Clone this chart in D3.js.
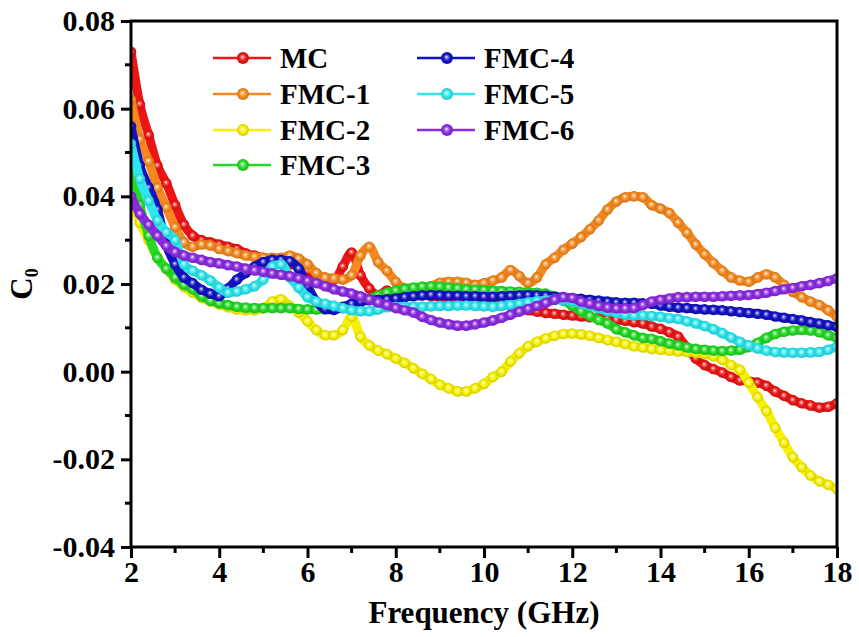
<!DOCTYPE html>
<html>
<head>
<meta charset="utf-8">
<style>
     body {
          margin: 0;
          background: white;
     }
     svg {
          font-family: "Liberation Serif", "Times New Roman", serif;
          font-weight: bold;
     }
     .axis path, .axis line {
          stroke: #000;
     }
     .axis text {
          font-family: "Liberation Serif", "Times New Roman", serif;
          font-size: 30px;
          font-weight: bold;
          fill: #000;
     }
     .legend text {
          font-size: 29px;
          fill: #000;
     }
</style>
</head>
<body>
<script src="https://d3js.org/d3.v7.min.js"></script>
<script>

     // frequency grid, 0.2 GHz step from 2 to 18 GHz
     var freq = d3.range(81).map(function(i) { return +(2 + i * 0.2).toFixed(1); });

     var mc = [0.073, 0.061, 0.054, 0.047, 0.043, 0.038, 0.0335, 0.031, 0.030, 0.0295,
          0.029, 0.0285, 0.028, 0.027, 0.0265, 0.026, 0.0255, 0.025, 0.0245, 0.024,
          0.023, 0.022, 0.021, 0.021, 0.024, 0.0272, 0.022, 0.019, 0.0175, 0.0185,
          0.018, 0.018, 0.0178, 0.0175, 0.0172, 0.017, 0.0168, 0.0165, 0.0162, 0.016,
          0.0157, 0.0155, 0.0152, 0.015, 0.0145, 0.014, 0.0137, 0.0134, 0.0132, 0.013,
          0.0128, 0.0126, 0.0124, 0.0122, 0.012, 0.0118, 0.0116, 0.0113, 0.011, 0.0103,
          0.0098, 0.009, 0.008, 0.0055, 0.003, 0.0015, 0.0006, -0.0002, -0.0012, -0.002,
          -0.0022, -0.0025, -0.0032, -0.0045, -0.0055, -0.0065, -0.0072, -0.0077, -0.0082, -0.008,
          -0.0072];

     var fmc1 = [0.062, 0.053, 0.048, 0.042, 0.0375, 0.033, 0.0295, 0.0285, 0.029, 0.0288,
          0.028, 0.0275, 0.027, 0.0265, 0.0262, 0.026, 0.026, 0.026, 0.0265, 0.0258,
          0.0245, 0.0225, 0.0215, 0.0213, 0.021, 0.022, 0.0265, 0.0285, 0.025, 0.023,
          0.0205, 0.019, 0.0188, 0.0188, 0.0195, 0.0203, 0.0205, 0.0205, 0.0203, 0.0198,
          0.0202, 0.0208, 0.0215, 0.0232, 0.0218, 0.0202, 0.0215, 0.0245, 0.026, 0.0278,
          0.0292, 0.0307, 0.0325, 0.0345, 0.037, 0.0388, 0.0398, 0.040, 0.0398, 0.038,
          0.0372, 0.0362, 0.034, 0.0317, 0.029, 0.0268, 0.0248, 0.023, 0.0215, 0.0208,
          0.0205, 0.0215, 0.0222, 0.0215, 0.0198, 0.0182, 0.017, 0.016, 0.0152, 0.014,
          0.0125];

     var fmc2 = [0.040, 0.034, 0.030, 0.026, 0.0235, 0.021, 0.0193, 0.018, 0.0168, 0.016,
          0.0153, 0.0147, 0.0142, 0.014, 0.014, 0.0145, 0.016, 0.0165, 0.015, 0.0135,
          0.0115, 0.0095, 0.0083, 0.0083, 0.0095, 0.0125, 0.008, 0.006, 0.0048, 0.004,
          0.003, 0.002, 0.0008, -0.0005, -0.0017, -0.003, -0.0038, -0.0045, -0.0045, -0.0038,
          -0.0028, -0.0012, 0.0, 0.0023, 0.0042, 0.0058, 0.0068, 0.0076, 0.0082, 0.0086,
          0.0087, 0.0085, 0.0082, 0.0077, 0.0072, 0.0068, 0.0063, 0.0058, 0.0055, 0.0052,
          0.005, 0.0048, 0.0046, 0.0045, 0.0043, 0.004, 0.0035, 0.0027, 0.0015, 0.0004,
          -0.0025, -0.0058, -0.009, -0.0128, -0.0162, -0.0195, -0.0218, -0.0237, -0.025, -0.0258,
          -0.0268];

     var fmc3 = [0.047, 0.038, 0.031, 0.026, 0.0235, 0.0215, 0.0198, 0.0188, 0.0172, 0.0162,
          0.0156, 0.0152, 0.0148, 0.0146, 0.0145, 0.0145, 0.0145, 0.0145, 0.0145, 0.0143,
          0.0142, 0.0142, 0.0142, 0.0143, 0.0145, 0.015, 0.0158, 0.0166, 0.0174, 0.018,
          0.0185, 0.0189, 0.0192, 0.0194, 0.0195, 0.0194, 0.0192, 0.019, 0.0188, 0.0187,
          0.0186, 0.0185, 0.0184, 0.0183, 0.0182, 0.0181, 0.018, 0.0178, 0.0172, 0.0162,
          0.015, 0.0138, 0.0127, 0.0118, 0.011, 0.0097, 0.009, 0.0083, 0.0077, 0.0075,
          0.007, 0.0064, 0.006, 0.0055, 0.0052, 0.005, 0.0048, 0.0047, 0.0048, 0.005,
          0.0056, 0.0066, 0.0077, 0.0086, 0.0091, 0.0094, 0.0095, 0.0094, 0.009, 0.0083,
          0.0077];

     var fmc4 = [0.056, 0.047, 0.042, 0.037, 0.029, 0.0245, 0.0215, 0.0202, 0.0187, 0.0178,
          0.0172, 0.019, 0.021, 0.0225, 0.024, 0.025, 0.0255, 0.0255, 0.0252, 0.0235,
          0.0195, 0.016, 0.0143, 0.0141, 0.0148, 0.0155, 0.016, 0.0163, 0.0164, 0.0165,
          0.0167, 0.017, 0.0172, 0.0174, 0.0175, 0.0174, 0.0173, 0.0173, 0.0172, 0.0172,
          0.0171, 0.0171, 0.0172, 0.0173, 0.0174, 0.0175, 0.0174, 0.0173, 0.0171, 0.017,
          0.0168, 0.0166, 0.0164, 0.0162, 0.016, 0.0158, 0.0157, 0.0157, 0.0156, 0.0155,
          0.0151, 0.0148, 0.0146, 0.0145, 0.0143, 0.0142, 0.0141, 0.014, 0.0138, 0.0136,
          0.0134, 0.0132, 0.013, 0.0126, 0.0123, 0.012, 0.0117, 0.0113, 0.011, 0.0106,
          0.0102];

     var fmc5 = [0.052, 0.044, 0.039, 0.0345, 0.0318, 0.030, 0.0245, 0.023, 0.022, 0.0208,
          0.0192, 0.018, 0.0183, 0.0188, 0.0195, 0.021, 0.024, 0.0245, 0.0215, 0.0192,
          0.017, 0.016, 0.0155, 0.015, 0.0145, 0.014, 0.0138, 0.0138, 0.0142, 0.0147,
          0.0148, 0.0148, 0.0148, 0.0148, 0.0149, 0.015, 0.015, 0.0151, 0.0151, 0.015,
          0.0149, 0.0148, 0.015, 0.0152, 0.0155, 0.0158, 0.0161, 0.0163, 0.0164, 0.0163,
          0.016, 0.0155, 0.015, 0.0144, 0.0138, 0.0134, 0.013, 0.0128, 0.0128, 0.0127,
          0.0125, 0.0122, 0.012, 0.0115, 0.011, 0.0104, 0.0097, 0.0088, 0.0078, 0.0068,
          0.006, 0.0053, 0.0048, 0.0045, 0.0044, 0.0043, 0.0043, 0.0044, 0.0045, 0.005,
          0.0057];

     var fmc6 = [0.040, 0.036, 0.0335, 0.031, 0.0287, 0.0273, 0.0265, 0.026, 0.0255, 0.025,
          0.0247, 0.0243, 0.024, 0.0235, 0.0231, 0.0228, 0.0224, 0.0221, 0.0218, 0.0213,
          0.0207, 0.0202, 0.0195, 0.0188, 0.0183, 0.0178, 0.0172, 0.0165, 0.0158, 0.0152,
          0.0145, 0.014, 0.0135, 0.0125, 0.0118, 0.0112, 0.0108, 0.0105, 0.0105, 0.0108,
          0.0112, 0.0117, 0.0123, 0.013, 0.0137, 0.0143, 0.015, 0.0157, 0.0164, 0.017,
          0.0168, 0.016, 0.0155, 0.015, 0.0146, 0.0144, 0.0144, 0.0145, 0.0152, 0.016,
          0.0164, 0.0167, 0.017, 0.017, 0.0171, 0.0171, 0.0171, 0.0172, 0.0173, 0.0174,
          0.0175, 0.0177, 0.018, 0.0184, 0.0188, 0.0191, 0.0195, 0.0198, 0.0202, 0.0207,
          0.0213];

     var names = ["MC", "FMC-1", "FMC-2", "FMC-3", "FMC-4", "FMC-5", "FMC-6"];
     var colors = ["#ec1515", "#f5891f", "#f7f000", "#25d925", "#1212c4", "#2de6ee", "#8a2be2"];
     var values = [mc, fmc1, fmc2, fmc3, fmc4, fmc5, fmc6];

     var xTicks = [2, 4, 6, 8, 10, 12, 14, 16, 18];
     var yTicks = [-0.04, -0.02, 0, 0.02, 0.04, 0.06, 0.08];

     var margin = {top: 21, right: 22, bottom: 90, left: 131},
          width = 859 - margin.left - margin.right,
          height = 637 - margin.top - margin.bottom;

     var x = d3.scaleLinear()
          .domain([2, 18])
          .range([0, width]);

     var y = d3.scaleLinear()
          .domain([-0.04, 0.08])
          .range([height, 0]);

     var svg = d3.select("body").append("svg")
          .attr("width", 859)
          .attr("height", 637);

     // glossy bead look for the markers
     var defs = svg.append("defs");
     colors.forEach(function(c, i) {
          var g = defs.append("radialGradient")
               .attr("id", "bead" + i)
               .attr("cx", "0.5").attr("cy", "0.5").attr("r", "0.5")
               .attr("fx", "0.45").attr("fy", "0.4");
          g.append("stop").attr("offset", "0%").attr("stop-color", "#ffffff");
          g.append("stop").attr("offset", "25%").attr("stop-color", d3.interpolateRgb(c, "#fff")(0.4));
          g.append("stop").attr("offset", "60%").attr("stop-color", c);
          g.append("stop").attr("offset", "100%").attr("stop-color", d3.color(c).darker(0.5));
     });

     var plot = svg.append("g")
          .attr("transform", "translate(" + margin.left + "," + margin.top + ")");

     var line = d3.line()
          .x(function(d) { return x(d.f); })
          .y(function(d) { return y(d.v); })
          .curve(d3.curveMonotoneX);

     defs.append("clipPath").attr("id", "clip")
          .append("rect")
          .attr("x", 0).attr("y", 0)
          .attr("width", width).attr("height", height);

     var series = names.map(function(n, i) {
          return {
               name: n,
               color: colors[i],
               points: freq.map(function(f, j) { return {f: f, v: values[i][j]}; })
          };
     });

     var seriesG = plot.append("g")
          .attr("clip-path", "url(#clip)")
          .selectAll("g").data(series)
       .enter().append("g");

     seriesG.append("path")
          .attr("d", function(d) { return line(d.points); })
          .attr("fill", "none")
          .attr("stroke", function(d) { return d.color; })
          .attr("stroke-width", 9)
          .attr("stroke-linejoin", "round");

     seriesG.selectAll("circle")
          .data(function(d, i) { return d.points.map(function(p) { return {f: p.f, v: p.v, i: i}; }); })
       .enter().append("circle")
          .attr("cx", function(d) { return x(d.f); })
          .attr("cy", function(d) { return y(d.v); })
          .attr("r", 5.3)
          .attr("fill", function(d) { return "url(#bead" + d.i + ")"; });

     // axes
     var xAxis = d3.axisBottom(x)
          .tickValues(xTicks)
          .tickSize(11)
          .tickPadding(3)
          .tickFormat(d3.format("d"));

     var yAxis = d3.axisLeft(y)
          .tickValues(yTicks)
          .tickSize(10)
          .tickPadding(6)
          .tickFormat(d3.format(".2f"));

     var gx = plot.append("g")
          .attr("class", "x axis")
          .attr("transform", "translate(0," + height + ")")
          .call(xAxis);

     var gy = plot.append("g")
          .attr("class", "y axis")
          .call(yAxis);

     gx.select(".domain").remove();
     gy.select(".domain").remove();
     gx.selectAll("line").attr("stroke-width", 3);
     gy.selectAll("line").attr("stroke-width", 3);
     gy.selectAll("text").text(function(d) { return d3.format(".2f")(d).replace("−", "-"); });

     // minor ticks
     plot.append("g").selectAll("line")
          .data(d3.range(3, 18, 2))
       .enter().append("line")
          .attr("x1", function(d) { return x(d); })
          .attr("x2", function(d) { return x(d); })
          .attr("y1", height)
          .attr("y2", height + 6)
          .attr("stroke", "#000")
          .attr("stroke-width", 3);

     plot.append("g").selectAll("line")
          .data([-0.03, -0.01, 0.01, 0.03, 0.05, 0.07])
       .enter().append("line")
          .attr("x1", 0)
          .attr("x2", -6)
          .attr("y1", function(d) { return y(d); })
          .attr("y2", function(d) { return y(d); })
          .attr("stroke", "#000")
          .attr("stroke-width", 3);

     // frame
     plot.append("rect")
          .attr("x", 0)
          .attr("y", 0)
          .attr("width", width)
          .attr("height", height)
          .attr("fill", "none")
          .attr("stroke", "#000")
          .attr("stroke-width", 3);

     // axis titles
     svg.append("text")
          .attr("x", margin.left + width / 2)
          .attr("y", 623)
          .attr("text-anchor", "middle")
          .style("font-size", "31px")
          .text("Frequency (GHz)");

     var yt = svg.append("text")
          .attr("transform", "translate(32," + (margin.top + y(0.02)) + ") rotate(-90)")
          .attr("text-anchor", "middle")
          .style("font-size", "31px");
     yt.append("tspan").text("C");
     yt.append("tspan")
          .attr("dy", 6)
          .style("font-size", "18px")
          .text("0");

     // legend
     var legendPos = [
          {x: 213, y: 58}, {x: 213, y: 94}, {x: 213, y: 130}, {x: 213, y: 165},
          {x: 417, y: 58}, {x: 417, y: 94}, {x: 417, y: 130}
     ];

     var legend = svg.append("g")
          .attr("class", "legend")
          .selectAll("g").data(series)
       .enter().append("g")
          .attr("transform", function(d, i) { return "translate(" + legendPos[i].x + "," + legendPos[i].y + ")"; });

     legend.append("line")
          .attr("x1", 0)
          .attr("x2", 58)
          .attr("stroke", function(d) { return d.color; })
          .attr("stroke-width", 2.5);

     legend.append("circle")
          .attr("cx", 30)
          .attr("r", 6)
          .attr("fill", function(d, i) { return "url(#bead" + i + ")"; });

     legend.append("text")
          .attr("x", 67)
          .attr("dy", "0.35em")
          .text(function(d) { return d.name; });

</script>
</body>
</html>
